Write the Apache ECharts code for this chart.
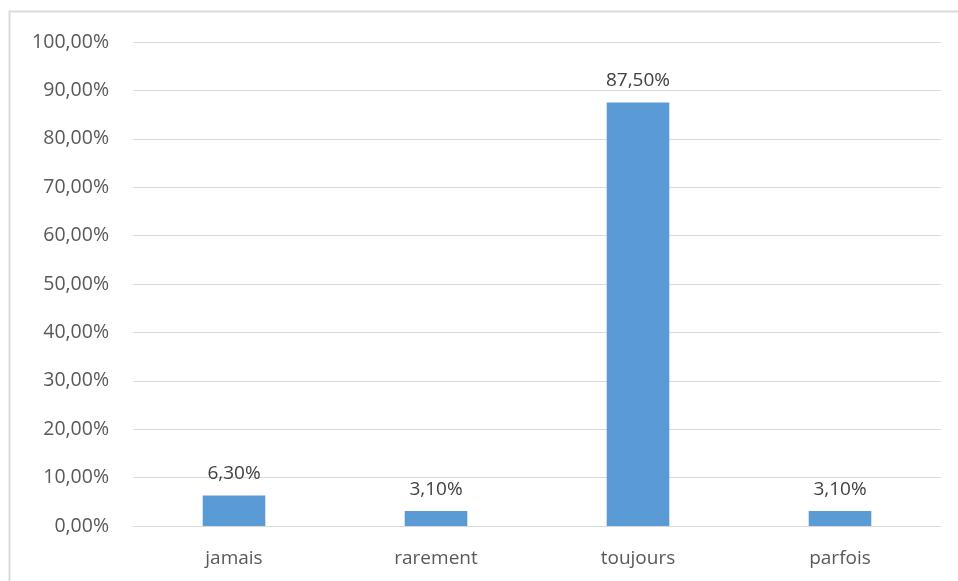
<!DOCTYPE html>
<html>
<head>
<meta charset="utf-8">
<script src="https://cdn.jsdelivr.net/npm/echarts@6/dist/echarts.min.js"></script>
<style>
html, body { margin: 0; padding: 0; background: #fff; }
#chart { width: 958px; height: 581px; }
</style>
</head>
<body>
<div id="chart"></div>
<script>
// données
var categories = ['jamais', 'rarement', 'toujours', 'parfois'];
var values = [6.3, 3.1, 87.5, 3.1];

function pct(v) {
  return v.toFixed(2).replace('.', ',') + '%';
}

var chart = echarts.init(document.getElementById('chart'));
var option = {
  animation: false,
  textStyle: { fontFamily: '"Open Sans", "Liberation Sans", sans-serif' },
  graphic: [{
    type: 'rect',
    shape: { x: 9.5, y: 11.5, width: 1000, height: 1000 },
    style: { fill: 'none', stroke: '#d9d9d9', lineWidth: 2 },
    silent: true
  }],
  grid: { left: 133, right: 17, top: 42, bottom: 55 },
  xAxis: {
    type: 'category',
    data: categories,
    axisLine: { lineStyle: { color: '#d9d9d9' } },
    axisTick: { show: false },
    axisLabel: { color: '#595959', fontSize: 19, margin: 23 }
  },
  yAxis: {
    type: 'value',
    min: 0,
    max: 100,
    interval: 10,
    axisLine: { show: false },
    axisTick: { show: false },
    splitLine: { lineStyle: { color: '#d9d9d9', width: 1 } },
    axisLabel: {
      color: '#595959',
      fontSize: 19.5,
      margin: 24,
      formatter: function (v) { return pct(v); }
    }
  },
  series: [{
    type: 'bar',
    data: values,
    barWidth: '31%',
    itemStyle: { color: '#5b9bd5' },
    label: {
      show: true,
      position: 'top',
      distance: 12,
      color: '#404040',
      fontSize: 19,
      formatter: function (p) { return pct(p.value); }
    }
  }]
};
chart.setOption(option);
</script>
</body>
</html>
